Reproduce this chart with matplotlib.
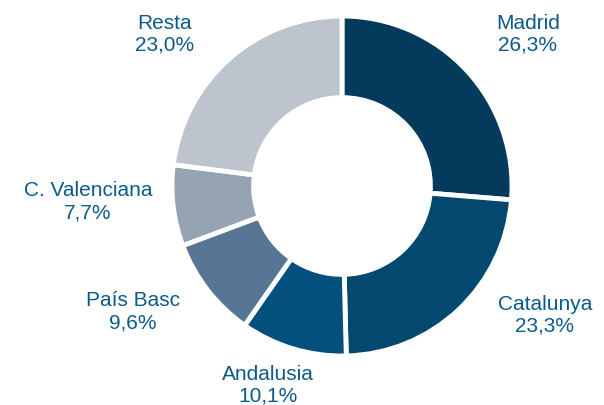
import matplotlib.pyplot as plt

regions = ['Madrid', 'Catalunya', 'Andalusia', 'País Basc', 'C. Valenciana', 'Resta']
shares = [26.3, 23.3, 10.1, 9.6, 7.7, 23.0]
colors = ['#043a5c', '#02486f', '#03507e', '#587595', '#95a3b3', '#bdc4cd']

# label centres (data units, pie radius = 1)
label_pos = [(1.094, 0.894), (1.194, -0.759), (-0.435, -1.171),
             (-1.229, -0.741), (-1.494, -0.094), (-1.041, 0.894)]

plt.rcParams['font.family'] = ['Liberation Sans', 'DejaVu Sans']

fig = plt.figure(figsize=(6.04, 4.05), dpi=100)
ax = fig.add_axes([0, 0, 1, 1])

ax.pie(shares, colors=colors, startangle=90, counterclock=False, radius=1,
       wedgeprops=dict(width=0.48, edgecolor='white', linewidth=3.5))

for name, val, (x, y) in zip(regions, shares, label_pos):
    txt = name + '\n' + f'{val:.1f}'.replace('.', ',') + '%'
    ax.text(x, y, txt, ha='center', va='center', fontsize=15,
            color='#0b5a8c', linespacing=1.2)

ax.set_xlim(-342 / 170, (604 - 342) / 170)
ax.set_ylim(-(405 - 186) / 170, 186 / 170)
ax.set_aspect('equal')
ax.axis('off')

plt.savefig('out.png', dpi=100)
